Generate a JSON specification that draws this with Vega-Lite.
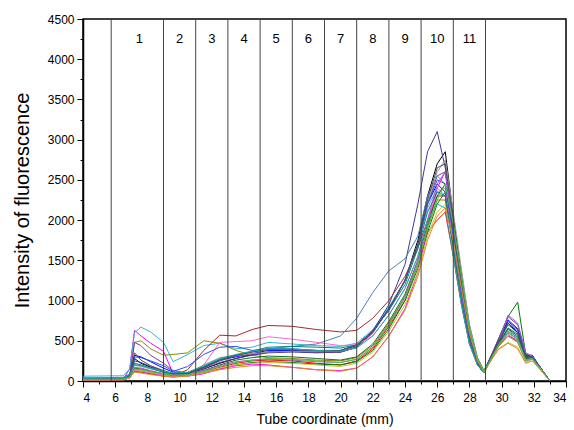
{
"$schema":"https://vega.github.io/schema/vega-lite/v6.json",
"width":483,"height":362,
"autosize":{"type":"none"},
"padding":{"left":83,"top":19,"right":8,"bottom":49},
"background":"white",
"config":{"view":{"stroke":"black","strokeWidth":1.5},"font":"Liberation Sans",
"axis":{"labelFont":"Liberation Sans","titleFont":"Liberation Sans","titleFontWeight":"normal","labelColor":"black","titleColor":"black","domainColor":"black","tickColor":"black","grid":false,"labelFontSize":12}},
"datasets":{
"curves":[
{"s":1,"x":4,"y":20},{"s":1,"x":6.5,"y":25},{"s":1,"x":6.9,"y":60},{"s":1,"x":7.2,"y":280},{"s":1,"x":7.6,"y":220},{"s":1,"x":8.2,"y":170},{"s":1,"x":9,"y":110},{"s":1,"x":9.6,"y":80},{"s":1,"x":10.5,"y":90},{"s":1,"x":11.5,"y":150},{"s":1,"x":12.5,"y":220},{"s":1,"x":13.5,"y":280},{"s":1,"x":14.5,"y":330},{"s":1,"x":15.5,"y":360},{"s":1,"x":17,"y":370},{"s":1,"x":18.5,"y":360},{"s":1,"x":20,"y":360},{"s":1,"x":21,"y":420},{"s":1,"x":22,"y":600},{"s":1,"x":23,"y":900},{"s":1,"x":24,"y":1250},{"s":1,"x":24.8,"y":1750},{"s":1,"x":25.4,"y":2300},{"s":1,"x":26,"y":2700},{"s":1,"x":26.5,"y":2850},{"s":1,"x":27,"y":2050},{"s":1,"x":27.5,"y":1300},{"s":1,"x":28,"y":620},{"s":1,"x":28.5,"y":250},{"s":1,"x":28.9,"y":110},{"s":1,"x":29.4,"y":330},{"s":1,"x":29.8,"y":480},{"s":1,"x":30.4,"y":720},{"s":1,"x":31,"y":600},{"s":1,"x":31.5,"y":300},{"s":1,"x":31.9,"y":320},{"s":1,"x":32.4,"y":170},{"s":1,"x":33,"y":0},
{"s":2,"x":4,"y":10},{"s":2,"x":6.5,"y":15},{"s":2,"x":6.9,"y":40},{"s":2,"x":7.2,"y":120},{"s":2,"x":7.6,"y":110},{"s":2,"x":8.2,"y":90},{"s":2,"x":9,"y":60},{"s":2,"x":9.6,"y":50},{"s":2,"x":10.5,"y":70},{"s":2,"x":11.5,"y":120},{"s":2,"x":12.5,"y":170},{"s":2,"x":13.5,"y":220},{"s":2,"x":14.5,"y":250},{"s":2,"x":15.5,"y":260},{"s":2,"x":17,"y":250},{"s":2,"x":18.5,"y":220},{"s":2,"x":20,"y":200},{"s":2,"x":21,"y":250},{"s":2,"x":22,"y":400},{"s":2,"x":23,"y":680},{"s":2,"x":24,"y":1000},{"s":2,"x":24.8,"y":1450},{"s":2,"x":25.4,"y":1850},{"s":2,"x":26,"y":2000},{"s":2,"x":26.5,"y":2100},{"s":2,"x":27,"y":1550},{"s":2,"x":27.5,"y":950},{"s":2,"x":28,"y":460},{"s":2,"x":28.5,"y":200},{"s":2,"x":28.9,"y":100},{"s":2,"x":29.4,"y":300},{"s":2,"x":29.8,"y":430},{"s":2,"x":30.4,"y":560},{"s":2,"x":31,"y":500},{"s":2,"x":31.5,"y":260},{"s":2,"x":31.9,"y":290},{"s":2,"x":32.4,"y":150},{"s":2,"x":33,"y":0},
{"s":3,"x":4,"y":30},{"s":3,"x":6.5,"y":35},{"s":3,"x":6.9,"y":80},{"s":3,"x":7.2,"y":320},{"s":3,"x":7.6,"y":300},{"s":3,"x":8.2,"y":240},{"s":3,"x":9,"y":160},{"s":3,"x":9.6,"y":110},{"s":3,"x":10.5,"y":100},{"s":3,"x":11.5,"y":170},{"s":3,"x":12.5,"y":260},{"s":3,"x":13.5,"y":300},{"s":3,"x":14.5,"y":340},{"s":3,"x":15.5,"y":380},{"s":3,"x":17,"y":380},{"s":3,"x":18.5,"y":370},{"s":3,"x":20,"y":380},{"s":3,"x":21,"y":450},{"s":3,"x":22,"y":620},{"s":3,"x":23,"y":900},{"s":3,"x":24,"y":1250},{"s":3,"x":24.8,"y":1700},{"s":3,"x":25.4,"y":2200},{"s":3,"x":26,"y":2450},{"s":3,"x":26.5,"y":2350},{"s":3,"x":27,"y":1750},{"s":3,"x":27.5,"y":1100},{"s":3,"x":28,"y":540},{"s":3,"x":28.5,"y":220},{"s":3,"x":28.9,"y":100},{"s":3,"x":29.4,"y":320},{"s":3,"x":29.8,"y":500},{"s":3,"x":30.4,"y":760},{"s":3,"x":31,"y":650},{"s":3,"x":31.5,"y":320},{"s":3,"x":31.9,"y":310},{"s":3,"x":32.4,"y":170},{"s":3,"x":33,"y":0},
{"s":4,"x":4,"y":15},{"s":4,"x":6.5,"y":20},{"s":4,"x":6.9,"y":50},{"s":4,"x":7.2,"y":150},{"s":4,"x":7.6,"y":130},{"s":4,"x":8.2,"y":110},{"s":4,"x":9,"y":80},{"s":4,"x":9.6,"y":60},{"s":4,"x":10.5,"y":70},{"s":4,"x":11.5,"y":110},{"s":4,"x":12.5,"y":150},{"s":4,"x":13.5,"y":200},{"s":4,"x":14.5,"y":230},{"s":4,"x":15.5,"y":240},{"s":4,"x":17,"y":230},{"s":4,"x":18.5,"y":210},{"s":4,"x":20,"y":200},{"s":4,"x":21,"y":240},{"s":4,"x":22,"y":380},{"s":4,"x":23,"y":650},{"s":4,"x":24,"y":1000},{"s":4,"x":24.8,"y":1400},{"s":4,"x":25.4,"y":1850},{"s":4,"x":26,"y":2200},{"s":4,"x":26.5,"y":2350},{"s":4,"x":27,"y":2000},{"s":4,"x":27.5,"y":1350},{"s":4,"x":28,"y":700},{"s":4,"x":28.5,"y":290},{"s":4,"x":28.9,"y":130},{"s":4,"x":29.4,"y":330},{"s":4,"x":29.8,"y":520},{"s":4,"x":30.4,"y":800},{"s":4,"x":31,"y":980},{"s":4,"x":31.5,"y":330},{"s":4,"x":31.9,"y":300},{"s":4,"x":32.4,"y":160},{"s":4,"x":33,"y":0},
{"s":5,"x":4,"y":20},{"s":5,"x":6.5,"y":25},{"s":5,"x":6.9,"y":150},{"s":5,"x":7.2,"y":630},{"s":5,"x":7.6,"y":560},{"s":5,"x":8.2,"y":470},{"s":5,"x":9,"y":370},{"s":5,"x":9.6,"y":90},{"s":5,"x":10.5,"y":60},{"s":5,"x":11.5,"y":90},{"s":5,"x":12.5,"y":150},{"s":5,"x":13.5,"y":190},{"s":5,"x":14.5,"y":210},{"s":5,"x":15.5,"y":200},{"s":5,"x":17,"y":170},{"s":5,"x":18.5,"y":140},{"s":5,"x":20,"y":130},{"s":5,"x":21,"y":160},{"s":5,"x":22,"y":300},{"s":5,"x":23,"y":560},{"s":5,"x":24,"y":900},{"s":5,"x":24.8,"y":1350},{"s":5,"x":25.4,"y":1900},{"s":5,"x":26,"y":2400},{"s":5,"x":26.5,"y":2600},{"s":5,"x":27,"y":1850},{"s":5,"x":27.5,"y":1150},{"s":5,"x":28,"y":550},{"s":5,"x":28.5,"y":220},{"s":5,"x":28.9,"y":100},{"s":5,"x":29.4,"y":310},{"s":5,"x":29.8,"y":450},{"s":5,"x":30.4,"y":600},{"s":5,"x":31,"y":520},{"s":5,"x":31.5,"y":260},{"s":5,"x":31.9,"y":290},{"s":5,"x":32.4,"y":160},{"s":5,"x":33,"y":0},
{"s":6,"x":4,"y":60},{"s":6,"x":6.5,"y":65},{"s":6,"x":6.9,"y":150},{"s":6,"x":7.2,"y":600},{"s":6,"x":7.6,"y":670},{"s":6,"x":8.2,"y":610},{"s":6,"x":9,"y":480},{"s":6,"x":9.6,"y":240},{"s":6,"x":10.5,"y":330},{"s":6,"x":11.5,"y":440},{"s":6,"x":12.5,"y":470},{"s":6,"x":13.5,"y":400},{"s":6,"x":14.5,"y":420},{"s":6,"x":15.5,"y":480},{"s":6,"x":17,"y":460},{"s":6,"x":18.5,"y":440},{"s":6,"x":20,"y":430},{"s":6,"x":21,"y":470},{"s":6,"x":22,"y":640},{"s":6,"x":23,"y":920},{"s":6,"x":24,"y":1250},{"s":6,"x":24.8,"y":1700},{"s":6,"x":25.4,"y":2150},{"s":6,"x":26,"y":2400},{"s":6,"x":26.5,"y":2300},{"s":6,"x":27,"y":1650},{"s":6,"x":27.5,"y":1000},{"s":6,"x":28,"y":480},{"s":6,"x":28.5,"y":210},{"s":6,"x":28.9,"y":100},{"s":6,"x":29.4,"y":320},{"s":6,"x":29.8,"y":470},{"s":6,"x":30.4,"y":640},{"s":6,"x":31,"y":540},{"s":6,"x":31.5,"y":270},{"s":6,"x":31.9,"y":300},{"s":6,"x":32.4,"y":170},{"s":6,"x":33,"y":0},
{"s":7,"x":4,"y":15},{"s":7,"x":6.5,"y":20},{"s":7,"x":6.9,"y":60},{"s":7,"x":7.2,"y":480},{"s":7,"x":7.6,"y":500},{"s":7,"x":8.2,"y":400},{"s":7,"x":9,"y":320},{"s":7,"x":9.6,"y":330},{"s":7,"x":10.5,"y":350},{"s":7,"x":11.5,"y":500},{"s":7,"x":12.5,"y":470},{"s":7,"x":13.5,"y":380},{"s":7,"x":14.5,"y":320},{"s":7,"x":15.5,"y":290},{"s":7,"x":17,"y":280},{"s":7,"x":18.5,"y":260},{"s":7,"x":20,"y":250},{"s":7,"x":21,"y":290},{"s":7,"x":22,"y":440},{"s":7,"x":23,"y":720},{"s":7,"x":24,"y":1050},{"s":7,"x":24.8,"y":1450},{"s":7,"x":25.4,"y":1900},{"s":7,"x":26,"y":2250},{"s":7,"x":26.5,"y":2250},{"s":7,"x":27,"y":1700},{"s":7,"x":27.5,"y":1050},{"s":7,"x":28,"y":500},{"s":7,"x":28.5,"y":210},{"s":7,"x":28.9,"y":100},{"s":7,"x":29.4,"y":290},{"s":7,"x":29.8,"y":430},{"s":7,"x":30.4,"y":560},{"s":7,"x":31,"y":480},{"s":7,"x":31.5,"y":250},{"s":7,"x":31.9,"y":280},{"s":7,"x":32.4,"y":150},{"s":7,"x":33,"y":0},
{"s":8,"x":4,"y":25},{"s":8,"x":6.5,"y":30},{"s":8,"x":6.9,"y":70},{"s":8,"x":7.2,"y":250},{"s":8,"x":7.6,"y":230},{"s":8,"x":8.2,"y":180},{"s":8,"x":9,"y":120},{"s":8,"x":9.6,"y":90},{"s":8,"x":10.5,"y":90},{"s":8,"x":11.5,"y":150},{"s":8,"x":12.5,"y":230},{"s":8,"x":13.5,"y":280},{"s":8,"x":14.5,"y":320},{"s":8,"x":15.5,"y":350},{"s":8,"x":17,"y":360},{"s":8,"x":18.5,"y":350},{"s":8,"x":20,"y":360},{"s":8,"x":21,"y":420},{"s":8,"x":22,"y":620},{"s":8,"x":23,"y":950},{"s":8,"x":24,"y":1450},{"s":8,"x":24.8,"y":2200},{"s":8,"x":25.4,"y":2850},{"s":8,"x":26,"y":3100},{"s":8,"x":26.5,"y":2650},{"s":8,"x":27,"y":1900},{"s":8,"x":27.5,"y":1150},{"s":8,"x":28,"y":560},{"s":8,"x":28.5,"y":230},{"s":8,"x":28.9,"y":110},{"s":8,"x":29.4,"y":330},{"s":8,"x":29.8,"y":480},{"s":8,"x":30.4,"y":740},{"s":8,"x":31,"y":640},{"s":8,"x":31.5,"y":320},{"s":8,"x":31.9,"y":320},{"s":8,"x":32.4,"y":170},{"s":8,"x":33,"y":0},
{"s":9,"x":4,"y":10},{"s":9,"x":6.5,"y":15},{"s":9,"x":6.9,"y":40},{"s":9,"x":7.2,"y":120},{"s":9,"x":7.6,"y":110},{"s":9,"x":8.2,"y":90},{"s":9,"x":9,"y":70},{"s":9,"x":9.6,"y":60},{"s":9,"x":10.5,"y":140},{"s":9,"x":11.5,"y":380},{"s":9,"x":12.5,"y":570},{"s":9,"x":13.5,"y":560},{"s":9,"x":14.5,"y":640},{"s":9,"x":15.5,"y":690},{"s":9,"x":17,"y":680},{"s":9,"x":18.5,"y":640},{"s":9,"x":20,"y":610},{"s":9,"x":21,"y":630},{"s":9,"x":22,"y":780},{"s":9,"x":23,"y":1000},{"s":9,"x":24,"y":1300},{"s":9,"x":24.8,"y":1650},{"s":9,"x":25.4,"y":2000},{"s":9,"x":26,"y":2300},{"s":9,"x":26.5,"y":2300},{"s":9,"x":27,"y":1650},{"s":9,"x":27.5,"y":1000},{"s":9,"x":28,"y":480},{"s":9,"x":28.5,"y":210},{"s":9,"x":28.9,"y":100},{"s":9,"x":29.4,"y":300},{"s":9,"x":29.8,"y":440},{"s":9,"x":30.4,"y":560},{"s":9,"x":31,"y":500},{"s":9,"x":31.5,"y":260},{"s":9,"x":31.9,"y":290},{"s":9,"x":32.4,"y":150},{"s":9,"x":33,"y":0},
{"s":10,"x":4,"y":15},{"s":10,"x":6.5,"y":20},{"s":10,"x":6.9,"y":60},{"s":10,"x":7.2,"y":480},{"s":10,"x":7.6,"y":440},{"s":10,"x":8.2,"y":320},{"s":10,"x":9,"y":220},{"s":10,"x":9.6,"y":130},{"s":10,"x":10.5,"y":100},{"s":10,"x":11.5,"y":160},{"s":10,"x":12.5,"y":250},{"s":10,"x":13.5,"y":310},{"s":10,"x":14.5,"y":330},{"s":10,"x":15.5,"y":360},{"s":10,"x":17,"y":370},{"s":10,"x":18.5,"y":360},{"s":10,"x":20,"y":360},{"s":10,"x":21,"y":420},{"s":10,"x":22,"y":600},{"s":10,"x":23,"y":900},{"s":10,"x":24,"y":1250},{"s":10,"x":24.8,"y":1700},{"s":10,"x":25.4,"y":2200},{"s":10,"x":26,"y":2550},{"s":10,"x":26.5,"y":2600},{"s":10,"x":27,"y":1900},{"s":10,"x":27.5,"y":1200},{"s":10,"x":28,"y":580},{"s":10,"x":28.5,"y":240},{"s":10,"x":28.9,"y":110},{"s":10,"x":29.4,"y":340},{"s":10,"x":29.8,"y":520},{"s":10,"x":30.4,"y":800},{"s":10,"x":31,"y":700},{"s":10,"x":31.5,"y":340},{"s":10,"x":31.9,"y":310},{"s":10,"x":32.4,"y":170},{"s":10,"x":33,"y":0},
{"s":11,"x":4,"y":40},{"s":11,"x":6.5,"y":45},{"s":11,"x":6.9,"y":90},{"s":11,"x":7.2,"y":200},{"s":11,"x":7.6,"y":190},{"s":11,"x":8.2,"y":160},{"s":11,"x":9,"y":110},{"s":11,"x":9.6,"y":90},{"s":11,"x":10.5,"y":100},{"s":11,"x":11.5,"y":170},{"s":11,"x":12.5,"y":260},{"s":11,"x":13.5,"y":320},{"s":11,"x":14.5,"y":360},{"s":11,"x":15.5,"y":400},{"s":11,"x":17,"y":430},{"s":11,"x":18.5,"y":460},{"s":11,"x":20,"y":560},{"s":11,"x":21,"y":780},{"s":11,"x":22,"y":1100},{"s":11,"x":23,"y":1370},{"s":11,"x":24,"y":1520},{"s":11,"x":24.8,"y":1800},{"s":11,"x":25.4,"y":2300},{"s":11,"x":26,"y":2550},{"s":11,"x":26.5,"y":2450},{"s":11,"x":27,"y":1750},{"s":11,"x":27.5,"y":1050},{"s":11,"x":28,"y":500},{"s":11,"x":28.5,"y":210},{"s":11,"x":28.9,"y":100},{"s":11,"x":29.4,"y":310},{"s":11,"x":29.8,"y":460},{"s":11,"x":30.4,"y":620},{"s":11,"x":31,"y":540},{"s":11,"x":31.5,"y":270},{"s":11,"x":31.9,"y":300},{"s":11,"x":32.4,"y":160},{"s":11,"x":33,"y":0},
{"s":12,"x":4,"y":20},{"s":12,"x":6.5,"y":25},{"s":12,"x":6.9,"y":50},{"s":12,"x":7.2,"y":140},{"s":12,"x":7.6,"y":130},{"s":12,"x":8.2,"y":110},{"s":12,"x":9,"y":80},{"s":12,"x":9.6,"y":60},{"s":12,"x":10.5,"y":70},{"s":12,"x":11.5,"y":110},{"s":12,"x":12.5,"y":160},{"s":12,"x":13.5,"y":200},{"s":12,"x":14.5,"y":220},{"s":12,"x":15.5,"y":230},{"s":12,"x":17,"y":220},{"s":12,"x":18.5,"y":200},{"s":12,"x":20,"y":180},{"s":12,"x":21,"y":220},{"s":12,"x":22,"y":360},{"s":12,"x":23,"y":620},{"s":12,"x":24,"y":950},{"s":12,"x":24.8,"y":1350},{"s":12,"x":25.4,"y":1800},{"s":12,"x":26,"y":2100},{"s":12,"x":26.5,"y":2200},{"s":12,"x":27,"y":1750},{"s":12,"x":27.5,"y":1150},{"s":12,"x":28,"y":580},{"s":12,"x":28.5,"y":240},{"s":12,"x":28.9,"y":110},{"s":12,"x":29.4,"y":280},{"s":12,"x":29.8,"y":400},{"s":12,"x":30.4,"y":480},{"s":12,"x":31,"y":420},{"s":12,"x":31.5,"y":230},{"s":12,"x":31.9,"y":270},{"s":12,"x":32.4,"y":150},{"s":12,"x":33,"y":0},
{"s":13,"x":4,"y":10},{"s":13,"x":6.5,"y":15},{"s":13,"x":6.9,"y":40},{"s":13,"x":7.2,"y":130},{"s":13,"x":7.6,"y":120},{"s":13,"x":8.2,"y":100},{"s":13,"x":9,"y":70},{"s":13,"x":9.6,"y":50},{"s":13,"x":10.5,"y":60},{"s":13,"x":11.5,"y":200},{"s":13,"x":12.5,"y":480},{"s":13,"x":13.5,"y":490},{"s":13,"x":14.5,"y":500},{"s":13,"x":15.5,"y":550},{"s":13,"x":17,"y":520},{"s":13,"x":18.5,"y":480},{"s":13,"x":20,"y":440},{"s":13,"x":21,"y":450},{"s":13,"x":22,"y":560},{"s":13,"x":23,"y":820},{"s":13,"x":24,"y":1150},{"s":13,"x":24.8,"y":1550},{"s":13,"x":25.4,"y":2000},{"s":13,"x":26,"y":2350},{"s":13,"x":26.5,"y":2400},{"s":13,"x":27,"y":1750},{"s":13,"x":27.5,"y":1080},{"s":13,"x":28,"y":520},{"s":13,"x":28.5,"y":220},{"s":13,"x":28.9,"y":100},{"s":13,"x":29.4,"y":290},{"s":13,"x":29.8,"y":440},{"s":13,"x":30.4,"y":580},{"s":13,"x":31,"y":500},{"s":13,"x":31.5,"y":260},{"s":13,"x":31.9,"y":280},{"s":13,"x":32.4,"y":160},{"s":13,"x":33,"y":0},
{"s":14,"x":4,"y":20},{"s":14,"x":6.5,"y":25},{"s":14,"x":6.9,"y":60},{"s":14,"x":7.2,"y":200},{"s":14,"x":7.6,"y":180},{"s":14,"x":8.2,"y":150},{"s":14,"x":9,"y":110},{"s":14,"x":9.6,"y":80},{"s":14,"x":10.5,"y":90},{"s":14,"x":11.5,"y":200},{"s":14,"x":12.5,"y":290},{"s":14,"x":13.5,"y":320},{"s":14,"x":14.5,"y":340},{"s":14,"x":15.5,"y":360},{"s":14,"x":17,"y":370},{"s":14,"x":18.5,"y":370},{"s":14,"x":20,"y":380},{"s":14,"x":21,"y":440},{"s":14,"x":22,"y":620},{"s":14,"x":23,"y":900},{"s":14,"x":24,"y":1250},{"s":14,"x":24.8,"y":1700},{"s":14,"x":25.4,"y":2200},{"s":14,"x":26,"y":2600},{"s":14,"x":26.5,"y":2750},{"s":14,"x":27,"y":2100},{"s":14,"x":27.5,"y":1400},{"s":14,"x":28,"y":700},{"s":14,"x":28.5,"y":280},{"s":14,"x":28.9,"y":120},{"s":14,"x":29.4,"y":300},{"s":14,"x":29.8,"y":450},{"s":14,"x":30.4,"y":560},{"s":14,"x":31,"y":480},{"s":14,"x":31.5,"y":250},{"s":14,"x":31.9,"y":270},{"s":14,"x":32.4,"y":150},{"s":14,"x":33,"y":0},
{"s":15,"x":4,"y":25},{"s":15,"x":6.5,"y":30},{"s":15,"x":6.9,"y":70},{"s":15,"x":7.2,"y":220},{"s":15,"x":7.6,"y":200},{"s":15,"x":8.2,"y":160},{"s":15,"x":9,"y":110},{"s":15,"x":9.6,"y":90},{"s":15,"x":10.5,"y":100},{"s":15,"x":11.5,"y":180},{"s":15,"x":12.5,"y":270},{"s":15,"x":13.5,"y":320},{"s":15,"x":14.5,"y":370},{"s":15,"x":15.5,"y":420},{"s":15,"x":17,"y":430},{"s":15,"x":18.5,"y":420},{"s":15,"x":20,"y":410},{"s":15,"x":21,"y":450},{"s":15,"x":22,"y":620},{"s":15,"x":23,"y":880},{"s":15,"x":24,"y":1200},{"s":15,"x":24.8,"y":1650},{"s":15,"x":25.4,"y":2100},{"s":15,"x":26,"y":2350},{"s":15,"x":26.5,"y":2300},{"s":15,"x":27,"y":1650},{"s":15,"x":27.5,"y":1000},{"s":15,"x":28,"y":480},{"s":15,"x":28.5,"y":210},{"s":15,"x":28.9,"y":100},{"s":15,"x":29.4,"y":310},{"s":15,"x":29.8,"y":470},{"s":15,"x":30.4,"y":660},{"s":15,"x":31,"y":580},{"s":15,"x":31.5,"y":290},{"s":15,"x":31.9,"y":300},{"s":15,"x":32.4,"y":170},{"s":15,"x":33,"y":0},
{"s":16,"x":4,"y":15},{"s":16,"x":6.5,"y":20},{"s":16,"x":6.9,"y":50},{"s":16,"x":7.2,"y":160},{"s":16,"x":7.6,"y":150},{"s":16,"x":8.2,"y":120},{"s":16,"x":9,"y":90},{"s":16,"x":9.6,"y":70},{"s":16,"x":10.5,"y":80},{"s":16,"x":11.5,"y":130},{"s":16,"x":12.5,"y":200},{"s":16,"x":13.5,"y":260},{"s":16,"x":14.5,"y":290},{"s":16,"x":15.5,"y":310},{"s":16,"x":17,"y":300},{"s":16,"x":18.5,"y":280},{"s":16,"x":20,"y":260},{"s":16,"x":21,"y":300},{"s":16,"x":22,"y":460},{"s":16,"x":23,"y":740},{"s":16,"x":24,"y":1080},{"s":16,"x":24.8,"y":1500},{"s":16,"x":25.4,"y":1950},{"s":16,"x":26,"y":2300},{"s":16,"x":26.5,"y":2450},{"s":16,"x":27,"y":1850},{"s":16,"x":27.5,"y":1150},{"s":16,"x":28,"y":560},{"s":16,"x":28.5,"y":230},{"s":16,"x":28.9,"y":110},{"s":16,"x":29.4,"y":300},{"s":16,"x":29.8,"y":460},{"s":16,"x":30.4,"y":650},{"s":16,"x":31,"y":560},{"s":16,"x":31.5,"y":280},{"s":16,"x":31.9,"y":290},{"s":16,"x":32.4,"y":160},{"s":16,"x":33,"y":0},
{"s":17,"x":4,"y":30},{"s":17,"x":6.5,"y":35},{"s":17,"x":6.9,"y":80},{"s":17,"x":7.2,"y":300},{"s":17,"x":7.6,"y":290},{"s":17,"x":8.2,"y":250},{"s":17,"x":9,"y":190},{"s":17,"x":9.6,"y":120},{"s":17,"x":10.5,"y":180},{"s":17,"x":11.5,"y":330},{"s":17,"x":12.5,"y":420},{"s":17,"x":13.5,"y":430},{"s":17,"x":14.5,"y":380},{"s":17,"x":15.5,"y":400},{"s":17,"x":17,"y":400},{"s":17,"x":18.5,"y":380},{"s":17,"x":20,"y":380},{"s":17,"x":21,"y":440},{"s":17,"x":22,"y":620},{"s":17,"x":23,"y":880},{"s":17,"x":24,"y":1250},{"s":17,"x":24.8,"y":1700},{"s":17,"x":25.4,"y":2200},{"s":17,"x":26,"y":2500},{"s":17,"x":26.5,"y":2450},{"s":17,"x":27,"y":1800},{"s":17,"x":27.5,"y":1100},{"s":17,"x":28,"y":530},{"s":17,"x":28.5,"y":220},{"s":17,"x":28.9,"y":100},{"s":17,"x":29.4,"y":310},{"s":17,"x":29.8,"y":480},{"s":17,"x":30.4,"y":720},{"s":17,"x":31,"y":620},{"s":17,"x":31.5,"y":310},{"s":17,"x":31.9,"y":310},{"s":17,"x":32.4,"y":170},{"s":17,"x":33,"y":0},
{"s":18,"x":4,"y":15},{"s":18,"x":6.5,"y":20},{"s":18,"x":6.9,"y":50},{"s":18,"x":7.2,"y":170},{"s":18,"x":7.6,"y":160},{"s":18,"x":8.2,"y":130},{"s":18,"x":9,"y":90},{"s":18,"x":9.6,"y":70},{"s":18,"x":10.5,"y":80},{"s":18,"x":11.5,"y":130},{"s":18,"x":12.5,"y":190},{"s":18,"x":13.5,"y":240},{"s":18,"x":14.5,"y":260},{"s":18,"x":15.5,"y":270},{"s":18,"x":17,"y":260},{"s":18,"x":18.5,"y":240},{"s":18,"x":20,"y":230},{"s":18,"x":21,"y":270},{"s":18,"x":22,"y":420},{"s":18,"x":23,"y":700},{"s":18,"x":24,"y":1050},{"s":18,"x":24.8,"y":1500},{"s":18,"x":25.4,"y":2000},{"s":18,"x":26,"y":2450},{"s":18,"x":26.5,"y":2600},{"s":18,"x":27,"y":1950},{"s":18,"x":27.5,"y":1250},{"s":18,"x":28,"y":600},{"s":18,"x":28.5,"y":250},{"s":18,"x":28.9,"y":110},{"s":18,"x":29.4,"y":300},{"s":18,"x":29.8,"y":470},{"s":18,"x":30.4,"y":820},{"s":18,"x":31,"y":720},{"s":18,"x":31.5,"y":350},{"s":18,"x":31.9,"y":310},{"s":18,"x":32.4,"y":170},{"s":18,"x":33,"y":0},
{"s":19,"x":4,"y":20},{"s":19,"x":6.5,"y":25},{"s":19,"x":6.9,"y":60},{"s":19,"x":7.2,"y":350},{"s":19,"x":7.6,"y":260},{"s":19,"x":8.2,"y":190},{"s":19,"x":9,"y":130},{"s":19,"x":9.6,"y":90},{"s":19,"x":10.5,"y":90},{"s":19,"x":11.5,"y":170},{"s":19,"x":12.5,"y":260},{"s":19,"x":13.5,"y":320},{"s":19,"x":14.5,"y":360},{"s":19,"x":15.5,"y":390},{"s":19,"x":17,"y":390},{"s":19,"x":18.5,"y":380},{"s":19,"x":20,"y":380},{"s":19,"x":21,"y":440},{"s":19,"x":22,"y":620},{"s":19,"x":23,"y":900},{"s":19,"x":24,"y":1250},{"s":19,"x":24.8,"y":1700},{"s":19,"x":25.4,"y":2250},{"s":19,"x":26,"y":2650},{"s":19,"x":26.5,"y":2700},{"s":19,"x":27,"y":2000},{"s":19,"x":27.5,"y":1250},{"s":19,"x":28,"y":600},{"s":19,"x":28.5,"y":240},{"s":19,"x":28.9,"y":110},{"s":19,"x":29.4,"y":310},{"s":19,"x":29.8,"y":480},{"s":19,"x":30.4,"y":700},{"s":19,"x":31,"y":600},{"s":19,"x":31.5,"y":300},{"s":19,"x":31.9,"y":300},{"s":19,"x":32.4,"y":170},{"s":19,"x":33,"y":0},
{"s":20,"x":4,"y":35},{"s":20,"x":6.5,"y":40},{"s":20,"x":6.9,"y":80},{"s":20,"x":7.2,"y":200},{"s":20,"x":7.6,"y":190},{"s":20,"x":8.2,"y":160},{"s":20,"x":9,"y":120},{"s":20,"x":9.6,"y":100},{"s":20,"x":10.5,"y":110},{"s":20,"x":11.5,"y":190},{"s":20,"x":12.5,"y":280},{"s":20,"x":13.5,"y":330},{"s":20,"x":14.5,"y":370},{"s":20,"x":15.5,"y":400},{"s":20,"x":17,"y":400},{"s":20,"x":18.5,"y":380},{"s":20,"x":20,"y":370},{"s":20,"x":21,"y":410},{"s":20,"x":22,"y":560},{"s":20,"x":23,"y":820},{"s":20,"x":24,"y":1150},{"s":20,"x":24.8,"y":1550},{"s":20,"x":25.4,"y":2000},{"s":20,"x":26,"y":2200},{"s":20,"x":26.5,"y":2150},{"s":20,"x":27,"y":1550},{"s":20,"x":27.5,"y":950},{"s":20,"x":28,"y":460},{"s":20,"x":28.5,"y":200},{"s":20,"x":28.9,"y":100},{"s":20,"x":29.4,"y":300},{"s":20,"x":29.8,"y":450},{"s":20,"x":30.4,"y":600},{"s":20,"x":31,"y":520},{"s":20,"x":31.5,"y":260},{"s":20,"x":31.9,"y":280},{"s":20,"x":32.4,"y":160},{"s":20,"x":33,"y":0},
{"s":21,"x":4,"y":10},{"s":21,"x":6.5,"y":15},{"s":21,"x":6.9,"y":40},{"s":21,"x":7.2,"y":110},{"s":21,"x":7.6,"y":100},{"s":21,"x":8.2,"y":80},{"s":21,"x":9,"y":60},{"s":21,"x":9.6,"y":50},{"s":21,"x":10.5,"y":60},{"s":21,"x":11.5,"y":100},{"s":21,"x":12.5,"y":140},{"s":21,"x":13.5,"y":170},{"s":21,"x":14.5,"y":190},{"s":21,"x":15.5,"y":190},{"s":21,"x":17,"y":170},{"s":21,"x":18.5,"y":140},{"s":21,"x":20,"y":120},{"s":21,"x":21,"y":160},{"s":21,"x":22,"y":300},{"s":21,"x":23,"y":560},{"s":21,"x":24,"y":880},{"s":21,"x":24.8,"y":1300},{"s":21,"x":25.4,"y":1750},{"s":21,"x":26,"y":2050},{"s":21,"x":26.5,"y":2150},{"s":21,"x":27,"y":1750},{"s":21,"x":27.5,"y":1150},{"s":21,"x":28,"y":600},{"s":21,"x":28.5,"y":250},{"s":21,"x":28.9,"y":110},{"s":21,"x":29.4,"y":270},{"s":21,"x":29.8,"y":390},{"s":21,"x":30.4,"y":470},{"s":21,"x":31,"y":400},{"s":21,"x":31.5,"y":220},{"s":21,"x":31.9,"y":250},{"s":21,"x":32.4,"y":140},{"s":21,"x":33,"y":0},
{"s":22,"x":4,"y":20},{"s":22,"x":6.5,"y":25},{"s":22,"x":6.9,"y":50},{"s":22,"x":7.2,"y":150},{"s":22,"x":7.6,"y":140},{"s":22,"x":8.2,"y":120},{"s":22,"x":9,"y":90},{"s":22,"x":9.6,"y":70},{"s":22,"x":10.5,"y":80},{"s":22,"x":11.5,"y":120},{"s":22,"x":12.5,"y":180},{"s":22,"x":13.5,"y":230},{"s":22,"x":14.5,"y":260},{"s":22,"x":15.5,"y":280},{"s":22,"x":17,"y":270},{"s":22,"x":18.5,"y":250},{"s":22,"x":20,"y":230},{"s":22,"x":21,"y":270},{"s":22,"x":22,"y":420},{"s":22,"x":23,"y":690},{"s":22,"x":24,"y":1030},{"s":22,"x":24.8,"y":1450},{"s":22,"x":25.4,"y":1900},{"s":22,"x":26,"y":2250},{"s":22,"x":26.5,"y":2450},{"s":22,"x":27,"y":1950},{"s":22,"x":27.5,"y":1300},{"s":22,"x":28,"y":650},{"s":22,"x":28.5,"y":270},{"s":22,"x":28.9,"y":120},{"s":22,"x":29.4,"y":290},{"s":22,"x":29.8,"y":440},{"s":22,"x":30.4,"y":600},{"s":22,"x":31,"y":520},{"s":22,"x":31.5,"y":260},{"s":22,"x":31.9,"y":280},{"s":22,"x":32.4,"y":160},{"s":22,"x":33,"y":0}
],
"bounds":[{"x":5.75},{"x":9},{"x":11},{"x":13},{"x":15},{"x":17},{"x":19},{"x":21},{"x":23},{"x":25},{"x":27},{"x":29}],
"zones":[{"x":7.5,"y":4250,"t":"1"},{"x":10,"y":4250,"t":"2"},{"x":12,"y":4250,"t":"3"},{"x":14,"y":4250,"t":"4"},{"x":16,"y":4250,"t":"5"},{"x":18,"y":4250,"t":"6"},{"x":20,"y":4250,"t":"7"},{"x":22,"y":4250,"t":"8"},{"x":24,"y":4250,"t":"9"},{"x":26,"y":4250,"t":"10"},{"x":28,"y":4250,"t":"11"}]
},
"layer":[
{"data":{"name":"curves"},"mark":{"type":"line","strokeWidth":1,"clip":true},
"encoding":{
"x":{"field":"x","type":"quantitative","scale":{"domain":[4,34],"nice":false,"zero":false},
"axis":{"orient":"bottom","values":[4,6,8,10,12,14,16,18,20,22,24,26,28,30,32,34],"format":"d","tickSize":6,"labelPadding":5,"title":"Tube coordinate (mm)","titleFontSize":14,"titlePadding":9,"domainWidth":1.5}},
"y":{"field":"y","type":"quantitative","scale":{"domain":[0,4500],"nice":false},
"axis":{"orient":"left","values":[0,500,1000,1500,2000,2500,3000,3500,4000,4500],"format":"d","tickSize":6,"labelPadding":3,"title":"Intensity of fluorescence","titleFontSize":20,"titlePadding":15,"domainWidth":1.5}},
"color":{"field":"s","type":"nominal","legend":null,"scale":{"domain":[1,2,3,4,5,6,7,8,9,10,11,12,13,14,15,16,17,18,19,20,21,22],
"range":["#000000","#ff0000","#0000ff","#008000","#ff00ff","#33b5d8","#8c8c00","#3a3a9c","#a52a2a","#7a3fa0","#4a80b8","#c8c030","#ff66cc","#9a9a9a","#008080","#1f6b1f","#3050e8","#9b59d0","#4d4d4d","#20a8a8","#e08a20","#50c050"]}}
}},
{"data":{"name":"bounds"},"mark":{"type":"rule","color":"#444","strokeWidth":1},
"encoding":{"x":{"field":"x","type":"quantitative",
"axis":{"orient":"bottom","values":[5,7,9,11,13,15,17,19,21,23,25,27,29,31,33],"tickSize":3,"labels":false,"domain":false,"title":null}}}},
{"data":{"name":"zones"},"mark":{"type":"text","fontSize":13,"font":"Liberation Sans","color":"black"},
"encoding":{"x":{"field":"x","type":"quantitative","axis":null},
"y":{"field":"y","type":"quantitative","axis":{"orient":"left","values":[250,750,1250,1750,2250,2750,3250,3750,4250],"tickSize":3,"labels":false,"domain":false,"title":null}},
"text":{"field":"t"}}}
],
"resolve":{"axis":{"x":"independent","y":"independent"}}
}
